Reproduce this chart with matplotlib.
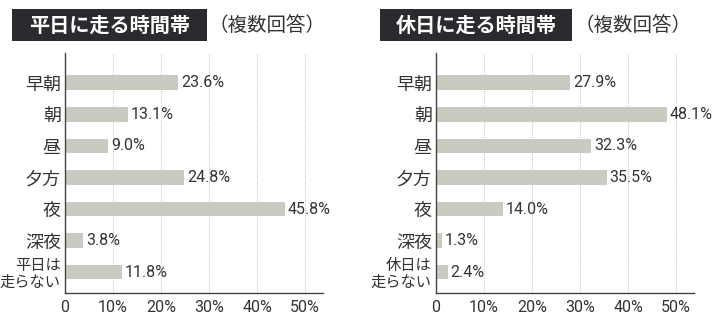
import matplotlib
matplotlib.use("Agg")
import matplotlib.pyplot as plt
from matplotlib.patches import Rectangle

plt.rcParams['font.family'] = ['Noto Sans CJK JP', 'DejaVu Sans']

weekday_categories = ["早朝", "朝", "昼", "夕方", "夜", "深夜", "平日は\n走らない"]
weekday_values = [23.6, 13.1, 9.0, 24.8, 45.8, 3.8, 11.8]
holiday_categories = ["早朝", "朝", "昼", "夕方", "夜", "深夜", "休日は\n走らない"]
holiday_values = [27.9, 48.1, 32.3, 35.5, 14.0, 1.3, 2.4]
xticks = [0, 10, 20, 30, 40, 50]
xtick_labels = ["0", "10%", "20%", "30%", "40%", "50%"]
titles = ["平日に走る時間帯", "休日に走る時間帯"]
subtitle = "（複数回答）"

W, H = 715, 323
fig = plt.figure(figsize=(W / 100, H / 100), dpi=100)
fig.patch.set_facecolor("white")

bar_color = "#c9cac0"
text_color = "#333333"
num_font = ['Liberation Sans Narrow', 'Roboto', 'DejaVu Sans']

def draw(ax_left_px, cats, vals, title, box_x0, box_x1):
    ax = fig.add_axes([ax_left_px / W, (H - 293) / H, 258 / W, 240 / H])
    y = list(range(len(cats)))
    ax.barh(y, vals, height=0.46, color=bar_color, zorder=2)
    ax.set_xlim(0, 53.7)
    ax.set_ylim(6.66, -0.94)
    ax.set_yticks(y)
    labels = ax.set_yticklabels(cats, fontsize=13, color=text_color, linespacing=1.0)
    labels[-1].set_fontsize(11)
    ax.set_xticks(xticks)
    ax.set_xticklabels(xtick_labels, fontsize=11.5, color=text_color, family=num_font)
    ax.tick_params(axis='y', length=0, pad=3)
    ax.tick_params(axis='x', length=0, pad=5)
    for s in ["top", "right"]:
        ax.spines[s].set_visible(False)
    for s in ["left", "bottom"]:
        ax.spines[s].set_color("#444444")
        ax.spines[s].set_linewidth(1.0)
    for t in xticks[1:]:
        ax.axvline(t, color="#bbbbbb", linestyle=(0, (1, 1.5)), linewidth=0.7, zorder=1)
    for yi, v in zip(y, vals):
        ax.text(v + 0.6, yi, f"{v:.1f}%", va="center", ha="left", fontsize=11.5,
                color=text_color, family=num_font)
    # title box
    fig.patches.append(Rectangle((box_x0 / W, (H - 41) / H), (box_x1 - box_x0) / W, 32 / H,
                                 transform=fig.transFigure, facecolor="#2a2b2e",
                                 edgecolor="none", zorder=0))
    fig.text((box_x0 + box_x1) / 2 / W, (H - 25) / H, title, ha="center", va="center",
             fontsize=14.5, fontweight="bold", color="white")
    fig.text((box_x1 + 2) / W, (H - 25) / H, subtitle, ha="left", va="center",
             fontsize=14, color=text_color)

draw(65, weekday_categories, weekday_values, titles[0], 12, 207)
draw(436, holiday_categories, holiday_values, titles[1], 380, 572)

fig.savefig("out.png", dpi=100)
